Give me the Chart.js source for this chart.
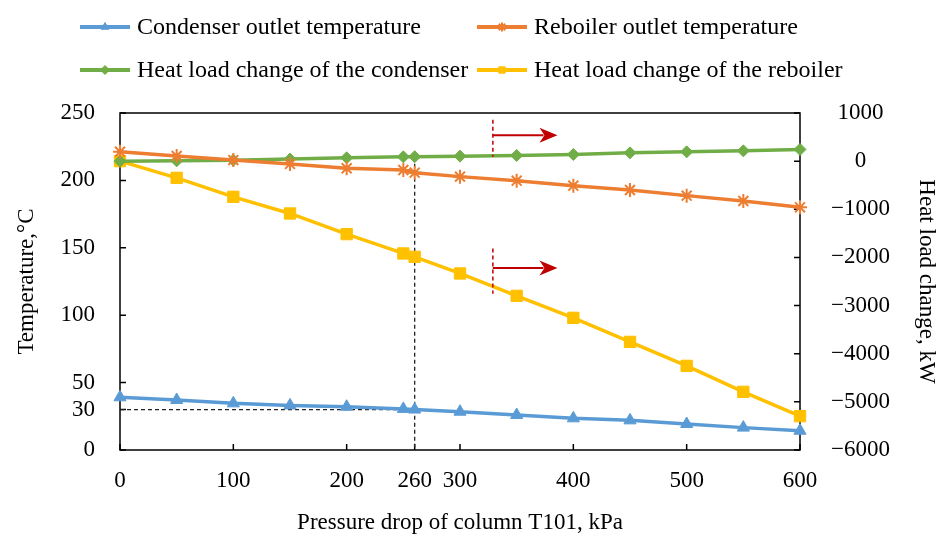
<!DOCTYPE html>
<html>
<head>
<meta charset="utf-8">
<script src="https://cdn.jsdelivr.net/npm/chart.js@4.4.1/dist/chart.umd.min.js"></script>
<style>
  body { margin: 0; background: #fff; }
  #wrap { width: 942px; height: 537px; }
</style>
</head>
<body>
<div id="wrap"><canvas id="chart"></canvas></div>
<script>
// ---------------------------------------------- datos
const pressureDrop = [0, 50, 100, 150, 200, 250, 260, 300, 350, 400, 450, 500, 550, 600];
const condenserTemp = [39.1, 37.1, 34.6, 33.1, 32.1, 30.5, 30.0, 28.4, 26.0, 23.5, 22.0, 19.3, 16.6, 14.3];
const reboilerTemp = [221.3, 218.1, 215.1, 212.2, 209.0, 207.7, 205.7, 202.8, 199.8, 196.1, 192.9, 188.7, 184.7, 180.0];
const condenserLoad = [0, 6, 21, 42, 69, 89, 92, 104, 118, 139, 172, 193, 214, 243];
const reboilerLoad = [0, -347, -741, -1087, -1516, -1917, -1988, -2333, -2798, -3255, -3754, -4252, -4792, -5297];

const xTicks = [0, 100, 200, 260, 300, 400, 500, 600];
const tempTicks = [0, 30, 50, 100, 150, 200, 250];

const designDrop = 260;
const designTemp = 30;

const fontFam = "'Liberation Serif', 'Times New Roman', serif";
const myChart = document.getElementById("chart");

function pts(ys) {
  return pressureDrop.map((x, i) => ({ x, y: ys[i] }));
}

function serie(label, data, color, style, axis, radius) {
  return {
    label, data: pts(data), yAxisID: axis,
    borderColor: color, backgroundColor: color,
    borderWidth: 3.5, pointStyle: style, pointRadius: radius,
    pointBorderWidth: style === "star" ? 2 : 1, pointBorderColor: color,
    tension: 0, clip: false
  };
}

// ---------------------------------------------- extras: marco, ticks, guias, flechas, leyenda
function arrow(ctx, x, y, yTop, yBot, yArr, xTip) {
  const px = x.getPixelForValue(329);
  ctx.save();
  ctx.strokeStyle = "#C00000";
  ctx.fillStyle = "#C00000";
  ctx.lineWidth = 1.5;
  ctx.setLineDash([4, 3]);
  ctx.beginPath();
  ctx.moveTo(px, y.getPixelForValue(yTop));
  ctx.lineTo(px, y.getPixelForValue(yBot));
  ctx.stroke();
  ctx.setLineDash([]);
  const ay = y.getPixelForValue(yArr);
  const tip = x.getPixelForValue(xTip);
  ctx.lineWidth = 2;
  ctx.beginPath();
  ctx.moveTo(px, ay);
  ctx.lineTo(tip - 14, ay);
  ctx.stroke();
  ctx.beginPath();
  ctx.moveTo(tip, ay);
  ctx.lineTo(tip - 18, ay - 7.5);
  ctx.lineTo(tip - 13, ay);
  ctx.lineTo(tip - 18, ay + 7.5);
  ctx.closePath();
  ctx.fill();
  ctx.restore();
}

const extras = {
  id: "extras",
  beforeDatasetsDraw(chart) {
    const { ctx, chartArea: a, scales: { x, y, y1 } } = chart;
    ctx.save();
    // marco
    ctx.strokeStyle = "#000";
    ctx.lineWidth = 1.5;
    ctx.strokeRect(a.left, a.top, a.right - a.left, a.bottom - a.top);
    // ticks hacia adentro
    ctx.beginPath();
    x.ticks.forEach(t => {
      const p = x.getPixelForValue(t.value);
      ctx.moveTo(p, a.bottom); ctx.lineTo(p, a.bottom - 6);
    });
    y.ticks.forEach(t => {
      const p = y.getPixelForValue(t.value);
      ctx.moveTo(a.left, p); ctx.lineTo(a.left + 6, p);
    });
    y1.ticks.forEach(t => {
      const p = y1.getPixelForValue(t.value);
      ctx.moveTo(a.right, p); ctx.lineTo(a.right - 6, p);
    });
    ctx.stroke();
    // guias punteadas
    ctx.strokeStyle = "#222";
    ctx.lineWidth = 1.3;
    ctx.setLineDash([4, 3]);
    const xd = x.getPixelForValue(designDrop);
    const yd = y.getPixelForValue(designTemp);
    ctx.beginPath();
    ctx.moveTo(xd, y1.getPixelForValue(condenserLoad[6]));
    ctx.lineTo(xd, a.bottom);
    ctx.moveTo(a.left, yd);
    ctx.lineTo(xd, yd);
    ctx.stroke();
    ctx.restore();
  },
  afterDatasetsDraw(chart) {
    const { ctx, scales: { x, y } } = chart;
    arrow(ctx, x, y, 245, 217.5, 233.5, 386);
    arrow(ctx, x, y, 149.5, 116, 135, 386);
  },
  afterDraw(chart) {
    const ctx = chart.ctx;
    const cols = [80, 477];
    const rows = [27, 70];
    ctx.save();
    ctx.font = "24px " + fontFam;
    ctx.textBaseline = "middle";
    chart.data.datasets.forEach((ds, i) => {
      const lx = cols[i % 2];
      const ly = rows[Math.floor(i / 2)];
      ctx.strokeStyle = ds.borderColor;
      ctx.fillStyle = ds.borderColor;
      ctx.lineWidth = 4;
      ctx.beginPath();
      ctx.moveTo(lx, ly);
      ctx.lineTo(lx + 50, ly);
      ctx.stroke();
      ctx.lineWidth = ds.pointBorderWidth;
      Chart.helpers.drawPoint(ctx, {
        pointStyle: ds.pointStyle, radius: 4.5,
        borderWidth: ds.pointBorderWidth, rotation: 0
      }, lx + 25, ly);
      ctx.fillStyle = "#000";
      ctx.fillText(ds.label, lx + 57, ly + 1);
    });
    ctx.restore();
  }
};

// ---------------------------------------------- grafico
Chart.defaults.color = "#000";
Chart.defaults.font.family = fontFam;
Chart.defaults.font.size = 23;

const config = {
  type: "line",
  data: {
    datasets: [
      serie("Condenser outlet temperature", condenserTemp, "#5B9BD5", "triangle", "y", 7),
      serie("Reboiler outlet temperature", reboilerTemp, "#ED7D31", "star", "y", 7),
      serie("Heat load change of the condenser", condenserLoad, "#70AD47", "rectRot", "y1", 6),
      serie("Heat load change of the reboiler", reboilerLoad, "#FFC000", "rect", "y1", 8)
    ]
  },
  options: {
    responsive: true,
    maintainAspectRatio: false,
    animation: false,
    layout: { padding: { top: 113, left: 0, right: 0, bottom: 0 } },
    plugins: { legend: { display: false }, tooltip: { enabled: false } },
    scales: {
      x: {
        type: "linear", min: 0, max: 600,
        grid: { display: false, drawTicks: false },
        border: { display: false },
        afterBuildTicks: s => { s.ticks = xTicks.map(v => ({ value: v })); },
        afterFit: s => { s.height = 87; },
        ticks: { autoSkip: false, maxRotation: 0, padding: 17 },
        title: { display: true, text: "Pressure drop of column T101, kPa", padding: { top: 0, bottom: 0 } }
      },
      y: {
        position: "left", min: 0, max: 250,
        grid: { display: false, drawTicks: false },
        border: { display: false },
        afterBuildTicks: s => { s.ticks = tempTicks.map(v => ({ value: v })); },
        afterFit: s => { s.width = 120; },
        ticks: { padding: 25 },
        title: { display: true, text: "Temperature,°C", padding: { top: 13, bottom: 0 } }
      },
      y1: {
        position: "right", min: -6000, max: 1000,
        grid: { display: false, drawTicks: false },
        border: { display: false },
        afterFit: s => { s.width = 142; },
        ticks: {
          stepSize: 1000, padding: 31, crossAlign: "center",
          callback: v => v < 0 ? "\u2212" + Math.abs(v) : String(v)
        },
        title: { display: true, text: "Heat load change, kW", padding: { top: 2, bottom: 0 } }
      }
    }
  },
  plugins: [extras]
};

const grafico = new Chart(myChart, config);
</script>
</body>
</html>
